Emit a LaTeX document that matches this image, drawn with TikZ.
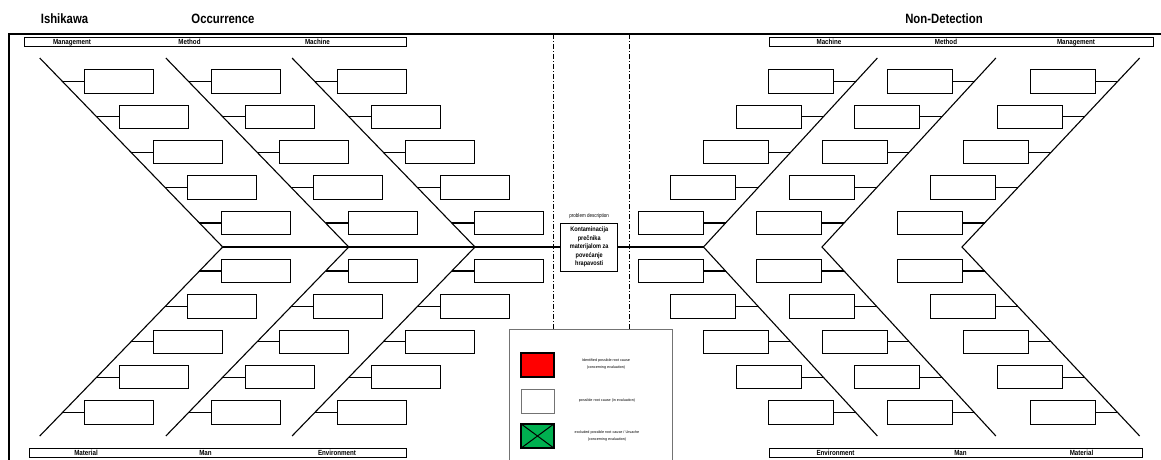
\documentclass[tikz,border=0pt]{standalone}
\usepackage{fontspec}
\setmainfont{Liberation Sans}
\newfontfamily\narrowfont[FakeStretch=0.84]{Liberation Sans}
\begin{document}
\begin{tikzpicture}[x=1pt,y=-1pt,
  bone/.style={line width=1.1pt,black},
  frameline/.style={line width=1.3pt,black},
  causebox/.style={draw,line width=1pt,fill=white,minimum width=69pt,minimum height=23.5pt,inner sep=0pt},
  rcausebox/.style={causebox,minimum width=65pt},
  catbar/.style={draw,line width=1pt,inner sep=0pt},
  catlabel/.style={font=\narrowfont\bfseries\fontsize{7.4}{8}\selectfont,inner sep=0pt,anchor=base},
  title/.style={font=\narrowfont\bfseries\fontsize{13.5}{14}\selectfont,inner sep=0pt},
  sepline/.style={line width=0.8pt,dash pattern=on 5pt off 2pt on 1pt off 2pt},
  probbox/.style={draw,line width=1pt,fill=white,minimum width=57pt,minimum height=48pt,inner sep=0pt,align=center,
    font=\narrowfont\bfseries\fontsize{6.6}{8.6}\selectfont},
  legtext/.style={font=\fontsize{3.7}{7}\selectfont,align=center,inner sep=0pt},
  legsq/.style={minimum width=33pt,minimum height=24pt,inner sep=0pt}
]
\useasboundingbox (0,0) rectangle (1161,459);

% titles
\node[title] (tIshikawa) at (64.5,19) {Ishikawa};
\node[title] (tOcc) at (223,19) {Occurrence};
\node[title] (tNonDet) at (944,19) {Non-Detection};

% outer frame (open to the right and below)
\coordinate (frTR) at (1170,34);
\coordinate (frTL) at (9,34);
\coordinate (frBL) at (9,470);
\draw[frameline] (frTR) -- (frTL) -- (frBL);

% category bars
\draw[catbar] (24,37) rectangle (406,46);
\draw[catbar] (769,37) rectangle (1153,46);
\draw[catbar] (29,448) rectangle (406,457);
\draw[catbar] (769,448) rectangle (1142,457);
\node[catlabel] (cL1) at (72,44.6) {Management};
\node[catlabel] (cL2) at (189.5,44.6) {Method};
\node[catlabel] (cL3) at (317.5,44.6) {Machine};
\node[catlabel] (cL4) at (86,455.6) {Material};
\node[catlabel] (cL5) at (205.5,455.6) {Man};
\node[catlabel] (cL6) at (337,455.6) {Environment};
\node[catlabel] (cR1) at (829,44.6) {Machine};
\node[catlabel] (cR2) at (946,44.6) {Method};
\node[catlabel] (cR3) at (1076,44.6) {Management};
\node[catlabel] (cR4) at (835.5,455.6) {Environment};
\node[catlabel] (cR5) at (960.5,455.6) {Man};
\node[catlabel] (cR6) at (1081.5,455.6) {Material};

% separators around the problem description
\coordinate (sA1) at (553,34); \coordinate (sA2) at (553,329);
\coordinate (sB1) at (629,34); \coordinate (sB2) at (629,329);
\draw[sepline] (sA1) -- (sA2);
\draw[sepline] (sB1) -- (sB2);

% problem description
\node[probbox] (prob) at (589.2,247) {Kontaminacija\\prečnika\\materijalom za\\povećanje\\hrapavosti};
\node[font=\narrowfont\fontsize{5.4}{6}\selectfont,inner sep=0pt] (probhead) at (589.2,216) {problem description};

% left fish bones (Occurrence)
\foreach \c/\T in {1/222.7, 2/348.8, 3/475} {
  \coordinate (Ltip\c) at (\T,247);
  \coordinate (Ltop\c) at ({\T-189*0.968},58);
  \coordinate (Lbot\c) at ({\T-189*0.968},436);
  \draw[bone] (Ltop\c) -- (Ltip\c) -- (Lbot\c);
  \foreach \k in {0,...,4} {
    \pgfmathsetmacro\d{24+35.4*\k}
    \coordinate (Lu\c\k) at ({\T-\d*0.968},{247-\d});
    \node[causebox,anchor=west] (LBu\c\k) at ({\T-\d*0.968+22},{247-\d}) {};
    \draw[bone] (Lu\c\k) -- (LBu\c\k.west);
    \coordinate (Ll\c\k) at ({\T-\d*0.968},{247+\d});
    \node[causebox,anchor=west] (LBl\c\k) at ({\T-\d*0.968+22},{247+\d}) {};
    \draw[bone] (Ll\c\k) -- (LBl\c\k.west);
  }
}

% right fish bones (Non-Detection)
\foreach \c/\T/\s in {1/703.5/0.92, 2/822/0.92, 3/962/0.94} {
  \coordinate (Rtip\c) at (\T,247);
  \coordinate (Rtop\c) at ({\T+189*\s},58);
  \coordinate (Rbot\c) at ({\T+189*\s},436);
  \draw[bone] (Rtop\c) -- (Rtip\c) -- (Rbot\c);
  \foreach \k in {0,...,4} {
    \pgfmathsetmacro\d{24+35.4*\k}
    \coordinate (Ru\c\k) at ({\T+\d*\s},{247-\d});
    \node[rcausebox,anchor=east] (RBu\c\k) at ({\T+\d*\s-21.7},{247-\d}) {};
    \draw[bone] (Ru\c\k) -- (RBu\c\k.east);
    \coordinate (Rl\c\k) at ({\T+\d*\s},{247+\d});
    \node[rcausebox,anchor=east] (RBl\c\k) at ({\T+\d*\s-21.7},{247+\d}) {};
    \draw[bone] (Rl\c\k) -- (RBl\c\k.east);
  }
}

% spine
\draw[bone] (Ltip1) -- (prob.west |- Ltip1);
\draw[bone] (prob.east |- Rtip1) -- (Rtip1);

% legend
\node[draw=black!55,line width=0.6pt,fill=white,minimum width=163pt,minimum height=145pt,inner sep=0pt,anchor=north west] (legend) at (509,329) {};
\node[legsq,draw=black,line width=1.3pt,fill=red] (lgRed) at (537.5,365) {};
\node[legsq,draw=black!55,line width=1pt,fill=white] (lgWhite) at (537.5,401) {};
\node[legsq,draw=black,line width=1.3pt,fill={rgb,255:red,0;green,176;blue,80}] (lgGreen) at (537.5,436) {};
\draw[line width=1pt] (lgGreen.north west) -- (lgGreen.south east);
\draw[line width=1pt] (lgGreen.north east) -- (lgGreen.south west);
\node[legtext] (lgT1) at (606,364.5) {Identified possible root cause\\(concerning evaluation)};
\node[legtext] (lgT2) at (607,401) {possible root cause (in evaluation)};
\node[legtext] (lgT3) at (607,436.5) {excluded possible root cause / Ursache\\(concerning evaluation)};
\end{tikzpicture}
\end{document}
